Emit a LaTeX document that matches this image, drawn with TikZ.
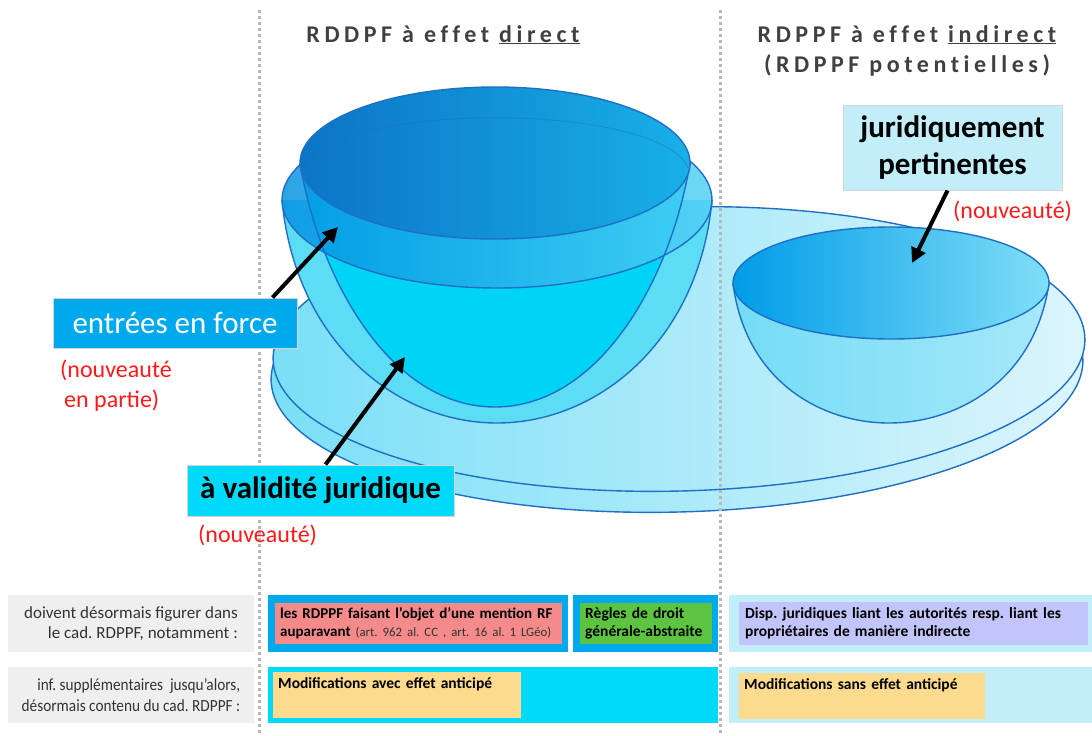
\documentclass[tikz,border=0pt]{standalone}
\usepackage{fontspec}
\usepackage{graphicx}
\setmainfont{Carlito}
\newfontfamily\hdrfont[LetterSpace=19,Ligatures=NoCommon]{Carlito}
\usetikzlibrary{arrows.meta}
\definecolor{blueBox}{HTML}{00A9EC}
\definecolor{cyanBox}{HTML}{00D9F7}
\definecolor{lightBox}{HTML}{C2EEFA}
\definecolor{grayBox}{HTML}{EFEFEF}
\definecolor{pinkC}{HTML}{F48A8A}
\definecolor{greenC}{HTML}{5DC441}
\definecolor{lavC}{HTML}{C1C5F9}
\definecolor{yellowC}{HTML}{FCDA8E}
\definecolor{redT}{HTML}{FF1A1A}
\definecolor{hdrC}{HTML}{404040}
\definecolor{txtC}{HTML}{333333}
\definecolor{lineBlue}{HTML}{1F6FC5}
\definecolor{dotGray}{HTML}{B8B8B8}
\definecolor{edgeC}{HTML}{D4D4D4}
\definecolor{plateL}{HTML}{7ADFF7}
\definecolor{plateR}{HTML}{DCF5FC}
\definecolor{bandC}{HTML}{5DDCF6}
\definecolor{cupC}{HTML}{00D4F5}
\definecolor{ringL}{HTML}{0090E2}
\definecolor{ringR}{HTML}{50D0F4}
\definecolor{rimL}{HTML}{0C74C6}
\definecolor{rimM}{HTML}{0A86CC}
\definecolor{rimR}{HTML}{18B0E8}
\definecolor{sbL}{HTML}{74DCF6}
\definecolor{sbR}{HTML}{A6E8F9}
\definecolor{srL}{HTML}{009CE8}
\definecolor{srM}{HTML}{00B2F0}
\definecolor{srR}{HTML}{80DEF7}
\begin{document}
\frenchspacing
\begin{tikzpicture}[x=1pt,y=-1pt,
  bowlline/.style={draw=lineBlue, line width=1.4pt},
  arr/.style={draw=black, line width=4pt, -{Triangle[length=15pt,width=15pt]}},
  dotline/.style={draw=dotGray, line width=3pt, dash pattern=on 3pt off 3pt},
  lbox/.style={draw=edgeC, line width=1pt, inner sep=0pt, font=\fontsize{31}{37}\selectfont},
  redtxt/.style={text=redT, inner sep=0pt, font=\fontsize{24}{30}\selectfont},
  hdr/.style={text=hdrC, inner sep=0pt, font=\fontsize{24}{30}\selectfont\hdrfont\bfseries},
  labcell/.style={fill=grayBox, inner sep=0pt, align=right, text=txtC, font=\fontsize{17}{20.5}\selectfont},
  cell/.style={inner sep=0pt},
  incell/.style={inner xsep=5pt, inner ysep=0pt, anchor=west, align=left, text=black, font=\fontsize{15}{18}\selectfont\bfseries},
  topcell/.style={inner xsep=5pt, inner ysep=5pt, anchor=north west, align=left, text=black, text height=11pt, font=\fontsize{15.5}{18}\selectfont\bfseries}
]
\useasboundingbox (0,0) rectangle (1092,736);
\fill[white] (0,0) rectangle (1092,736);

% plate
\draw[bowlline, left color=plateL, right color=plateR] (677,370) ellipse [x radius=406, y radius=142, rotate=1.5];
\draw[bowlline, left color=plateL, right color=plateR] (679,349) ellipse [x radius=406, y radius=142, rotate=1.5];

% big bowl: outer body
\path[fill=bandC] (282,200) .. controls (295,340) and (395,423) .. (497,423) .. controls (599,423) and (699,340) .. (712,200) -- cycle;
% inner cup body
\path[fill=cupC] (300,163) .. controls (320,283) and (392,407) .. (495,407) .. controls (598,407) and (670,283) .. (690,163) -- cycle;
% ring
\path[left color=ringL, right color=ringR, fill opacity=0.82] (497,200) ellipse [x radius=215, y radius=88];
% outlines
\draw[bowlline] (282,200) .. controls (295,340) and (395,423) .. (497,423) .. controls (599,423) and (699,340) .. (712,200);
\draw[bowlline] (300,163) .. controls (320,283) and (392,407) .. (495,407) .. controls (598,407) and (670,283) .. (690,163);
\draw[bowlline] (497,200) ellipse [x radius=215, y radius=88];
% dark rim
\draw[bowlline, left color=rimL, middle color=rimM, right color=rimR] (495,163) ellipse [x radius=195, y radius=76];
\draw[draw=lineBlue, draw opacity=0.45, line width=1pt] (302,168) .. controls (330,101) and (660,101) .. (688,168);

% small bowl
\path[left color=sbL, right color=sbR] (733,283) .. controls (745,380) and (820,423) .. (889,423) .. controls (958,423) and (1035,380) .. (1049,283) -- cycle;
\draw[bowlline] (733,283) .. controls (745,380) and (820,423) .. (889,423) .. controls (958,423) and (1035,380) .. (1049,283);
\draw[bowlline, left color=srL, middle color=srM, right color=srR] (891,283) ellipse [x radius=158, y radius=56];

% dotted separators
\draw[dotline] (259.5,10) -- (259.5,736);
\draw[dotline] (720.5,10) -- (720.5,736);

% headers
\node[hdr, anchor=base] (h1) at (443,42) {RDDPF à effet \underline{direct}};
\node[hdr, anchor=north, align=center] (h2) at (907,25) {RDPPF à effet \underline{indirect}\\(RDPPF potentielles)};

% label boxes
\node[lbox, fill=blueBox, text=white, minimum width=244pt, minimum height=50pt] (ef) at (175,323) {entrées en force};
\node[lbox, fill=cyanBox, text=black, font=\fontsize{31}{37}\selectfont\bfseries, minimum width=267pt, minimum height=51pt] (vj) at (320.5,490.5) {à validité juridique};
\node[lbox, fill=lightBox, text=black, font=\fontsize{31}{37}\selectfont\bfseries, align=center, minimum width=219pt, minimum height=85pt] (jp) at (952.5,147.5) {juridiquement\\pertinentes};

% red notes
\node[redtxt, anchor=north west, align=left] (r1) at (60,360) {(nouveauté\\\hspace*{4pt}en partie)};
\node[redtxt, anchor=base west] (r2) at (198,542) {(nouveauté)};
\node[redtxt, anchor=base west] (r3) at (953,218) {(nouveauté)};

% arrows
\coordinate (t1) at (338,227);
\coordinate (t2) at (405,357);
\coordinate (t3) at (912,263);
\draw[arr] ([xshift=-25pt]ef.north east) -- (t1);
\draw[arr] ([xshift=5pt]vj.north) -- (t2);
\draw[arr] ([xshift=-5pt]jp.south) -- (t3);

% bottom table, row 1
\node[labcell, minimum width=246pt, minimum height=57pt] (lab1) at (131,623.5) {doivent désormais figurer dans\\le cad. RDPPF, notamment :};
\node[cell, fill=blueBox, minimum width=300pt, minimum height=57pt] (b1) at (418,623.5) {};
\node[incell, fill=pinkC, minimum height=41pt, text width=281pt, inner xsep=3pt] (p1) at (275,623.5) {\hspace*{2pt}les RDPPF faisant l'objet d'une mention RF\\\mbox{\hspace*{2pt}auparavant {\mdseries\fontsize{12.8}{18}\selectfont\color{txtC}(art. 962 al. CC , art. 16 al. 1 LGéo)}}};
\node[cell, fill=blueBox, minimum width=145pt, minimum height=57pt] (b2) at (645.5,623.5) {};
\node[incell, fill=greenC, minimum height=41pt, text width=122pt, font=\fontsize{15.5}{18}\selectfont\bfseries] (g2) at (580,623.5) {Règles de droit\\générale-abstraite};
\node[cell, fill=lightBox, minimum width=363pt, minimum height=57pt] (c3) at (910.5,623.5) {};
\node[incell, fill=lavC, minimum height=43pt, text width=337pt, inner xsep=6pt, font=\fontsize{15.5}{18}\selectfont\bfseries] (l3) at (739,623.5) {Disp. juridiques liant les autorités resp. liant les\\propriétaires de manière indirecte};

% bottom table, row 2
\node[labcell, minimum width=246pt, minimum height=56pt] (lab2) at (131,695) {\scalebox{0.9}[1]{inf. supplémentaires\ \ jusqu'alors,}\\\scalebox{0.9}[1]{désormais contenu du cad. RDPPF :}};
\node[cell, fill=cyanBox, minimum width=450pt, minimum height=56pt] (b4) at (493,695) {};
\node[topcell, fill=yellowC, text width=238pt, text depth=25pt] (y4) at (273,672) {Modifications avec effet anticipé};
\node[cell, fill=lightBox, minimum width=363pt, minimum height=56pt] (c5) at (910.5,695) {};
\node[topcell, fill=yellowC, text width=236pt, text depth=25pt] (y5) at (739,673) {Modifications sans effet anticipé};
\end{tikzpicture}
\end{document}
